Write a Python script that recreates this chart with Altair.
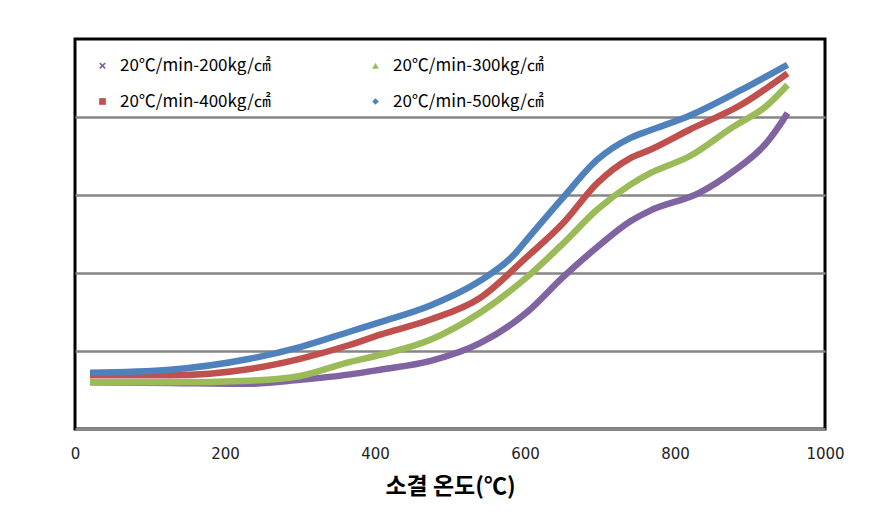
import altair as alt
import pandas as pd

series = ["20℃/min-200kg/㎠", "20℃/min-300kg/㎠", "20℃/min-400kg/㎠", "20℃/min-500kg/㎠"]
colors = ["#8064A2", "#9BBB59", "#C0504D", "#4F81BD"]
x_ticks = [0, 200, 400, 600, 800, 1000]
y_grid = [1, 2, 3, 4]

x_200 = [20, 127, 233, 300, 367, 407, 473, 540, 603, 651, 696, 740, 767, 833, 877, 923, 944, 950]
y_200 = [0.60, 0.59, 0.58, 0.63, 0.70, 0.76, 0.87, 1.10, 1.50, 1.95, 2.33, 2.66, 2.80, 3.03, 3.30, 3.68, 3.96, 4.05]

x_300 = [20, 127, 233, 300, 367, 407, 473, 540, 603, 651, 696, 740, 767, 820, 877, 923, 950]
y_300 = [0.60, 0.60, 0.62, 0.68, 0.86, 0.95, 1.14, 1.49, 1.95, 2.38, 2.81, 3.13, 3.28, 3.50, 3.87, 4.15, 4.41]

x_400 = [20, 127, 233, 300, 367, 407, 473, 540, 603, 651, 696, 740, 767, 820, 887, 950]
y_400 = [0.69, 0.69, 0.77, 0.90, 1.08, 1.21, 1.40, 1.68, 2.21, 2.64, 3.15, 3.47, 3.58, 3.84, 4.15, 4.56]

x_500 = [20, 127, 233, 300, 367, 407, 473, 540, 584, 607, 651, 696, 740, 767, 820, 887, 950]
y_500 = [0.72, 0.76, 0.90, 1.05, 1.25, 1.37, 1.58, 1.90, 2.22, 2.48, 2.97, 3.45, 3.73, 3.83, 4.02, 4.34, 4.67]

rows = []
for name, xs, ys in zip(series, [x_200, x_300, x_400, x_500], [y_200, y_300, y_400, y_500]):
    for xv, yv in zip(xs, ys):
        rows.append({"series": name, "temp": xv, "val": yv})
df = pd.DataFrame(rows)

x_shape = "M-1,-0.65L-0.65,-1L0,-0.35L0.65,-1L1,-0.65L0.35,0L1,0.65L0.65,1L0,0.35L-0.65,1L-1,0.65L-0.35,0Z"

color_scale = alt.Scale(domain=series, range=colors)
shape_scale = alt.Scale(domain=series, range=[x_shape, "triangle-up", "square", "diamond"])

x_enc = alt.X(
    "temp:Q",
    scale=alt.Scale(domain=[0, 1000], nice=False),
    axis=alt.Axis(
        values=x_ticks, title="소결 온도(℃)", grid=False, ticks=False, format="d",
        labelFlush=False, domainColor="#868686", domainWidth=3,
        labelFont="DejaVu Sans", labelFontSize=15, labelColor="#222222", labelPadding=17,
        titleFont="Noto Sans CJK KR", titleFontSize=23, titleFontWeight="bold",
        titleColor="#000000", titlePadding=14,
    ),
)
y_enc = alt.Y(
    "val:Q",
    scale=alt.Scale(domain=[0, 5], nice=False),
    axis=alt.Axis(
        values=y_grid, labels=False, ticks=False, domain=False, title=None,
        grid=True, gridColor="#868686", gridWidth=2.5,
    ),
)


def make_legend():
    return alt.Legend(
        title=None, orient="none", legendX=19, legendY=18, columns=2, direction="horizontal",
        columnPadding=96, rowPadding=18, labelFont="Noto Sans CJK KR",
        labelFontSize=17, labelColor="#000000", labelLimit=0, labelOffset=9,
        symbolSize=45, symbolOpacity=1, symbolStrokeWidth=0, padding=0,
    )


points = alt.Chart(df).mark_point(filled=True, opacity=0, size=10).encode(
    x=x_enc,
    y=y_enc,
    color=alt.Color("series:N", scale=color_scale, legend=make_legend()),
    shape=alt.Shape("series:N", scale=shape_scale, legend=make_legend()),
)

lines = alt.Chart(df).mark_line(strokeWidth=6.5, interpolate="monotone").encode(
    x=x_enc,
    y=y_enc,
    color=alt.Color("series:N", scale=color_scale, legend=None),
    detail="series:N",
)

chart = alt.layer(points, lines).properties(
    width=750, height=390,
    autosize=alt.AutoSizeParams(type="none"),
    padding={"left": 67, "top": 31, "right": 50, "bottom": 80},
).configure(
    background="#ffffff",
    view=alt.ViewConfig(stroke="#000000", strokeWidth=3),
)

chart.save("out.html", embed_options={"renderer": "svg", "actions": False})
